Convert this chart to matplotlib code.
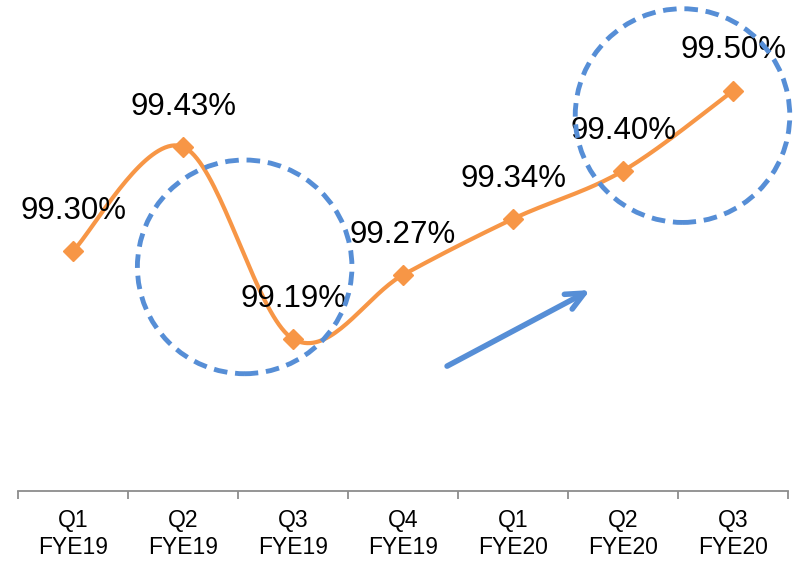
import numpy as np
import matplotlib
matplotlib.use("Agg")
import matplotlib.pyplot as plt
from matplotlib.patches import Ellipse

# --------------------
# Data
# --------------------
quarters = ["Q1", "Q2", "Q3", "Q4", "Q1", "Q2", "Q3"]
years = ["FYE19", "FYE19", "FYE19", "FYE19", "FYE20", "FYE20", "FYE20"]
values = [99.30, 99.43, 99.19, 99.27, 99.34, 99.40, 99.50]

labels = [q + "\n" + y for q, y in zip(quarters, years)]

ORANGE = "#F79646"
BLUE = "#568ED6"
GREY = "#8C8C8C"

plt.rcParams["font.family"] = ["Liberation Sans", "DejaVu Sans"]


def smooth_curve(xs, ys, n=40):
    """Excel-like smoothing: cubic Bezier with Catmull-Rom control points."""
    pts = np.column_stack([xs, ys]).astype(float)
    padded = np.vstack([pts[0], pts, pts[-1]])
    out = []
    for i in range(len(pts) - 1):
        p0, p1, p2, p3 = padded[i], padded[i + 1], padded[i + 2], padded[i + 3]
        c1 = p1 + (p2 - p0) / 6.0
        c2 = p2 - (p3 - p1) / 6.0
        t = np.linspace(0, 1, n)[:, None]
        seg = ((1 - t) ** 3) * p1 + 3 * ((1 - t) ** 2) * t * c1 + 3 * (1 - t) * t ** 2 * c2 + t ** 3 * p2
        out.append(seg if i == 0 else seg[1:])
    seg = np.vstack(out)
    return seg[:, 0], seg[:, 1]


x = np.arange(len(values))

fig = plt.figure(figsize=(7.98, 5.65), dpi=100)
ax = fig.add_axes([0.0226, 0.131, 0.965, 0.85])

sx, sy = smooth_curve(x, values)
ax.plot(sx, sy, color=ORANGE, lw=3, solid_capstyle="round", zorder=3)
ax.plot(x, values, ls="none", marker="D", ms=10, color=ORANGE, zorder=4)

for xi, v in zip(x, values):
    ax.annotate(f"{v:.2f}%", (xi, v), xytext=(0, 29), textcoords="offset points",
                ha="center", va="center", fontsize=22.5, color="black", zorder=5)

# highlight circles
for cx, cy in [(1.56, 99.28), (5.54, 99.469)]:
    ax.add_patch(Ellipse((cx, cy), 1.95, 0.267, fill=False, ec=BLUE, lw=3.5,
                         ls=(0, (2.8, 1.6)), zorder=6, clip_on=False))

# trend arrow
ax.annotate("", xy=(4.7, 99.251), xytext=(3.4, 99.156),
            arrowprops=dict(arrowstyle="->,head_length=1.3,head_width=0.6",
                            color=BLUE, lw=4, capstyle="round", joinstyle="round",
                            shrinkA=0, shrinkB=0), zorder=2)

ax.set_xlim(-0.5, len(values) - 0.5)
ax.set_ylim(99.0, 99.6)

ax.set_xticks(x)
ax.set_xticklabels(labels, fontsize=16.5, linespacing=1.2)
ax.set_xticks(np.arange(-0.5, len(values)), minor=True)
ax.tick_params(axis="x", which="major", length=0, pad=13)
ax.tick_params(axis="x", which="minor", length=6, width=1.3, color=GREY, direction="out")
ax.set_yticks([])

for side in ["left", "right", "top"]:
    ax.spines[side].set_visible(False)
ax.spines["bottom"].set_color(GREY)
ax.spines["bottom"].set_linewidth(1.3)

fig.savefig("out.png", dpi=100)
